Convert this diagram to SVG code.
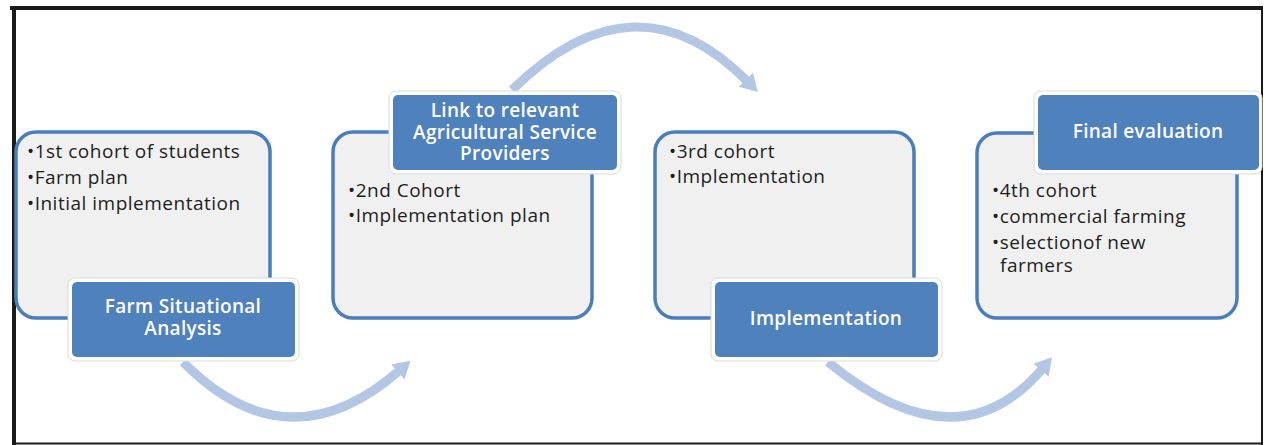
<svg xmlns="http://www.w3.org/2000/svg" width="1266" height="445" viewBox="0 0 1266 445">
<style>
.frame{fill:none;stroke:#1a1a1a}
.box{fill:#f0f0f0;stroke:#4a7ebb;stroke-width:3.5}
.lblshadow{fill:#ffffff;stroke:#dadada;stroke-width:1}
.lbl{fill:#4f81bd;stroke:none}
.t{font-family:"Open Sans",Lato,"Liberation Sans",sans-serif;font-size:19px;letter-spacing:0.5px;fill:#1e1e1e}
.w{font-family:"Open Sans",Lato,"Liberation Sans",sans-serif;font-size:19px;letter-spacing:0.3px;fill:#ffffff;text-anchor:middle;font-weight:600}
.arr{fill:none;stroke:#b3c6e4;stroke-width:9}
</style>
<defs>
<marker id="ah" markerUnits="userSpaceOnUse" markerWidth="20" markerHeight="22" refX="3" refY="11" orient="auto">
<path d="M0,1 L17,11 L0,21 z" fill="#b3c6e4"/>
</marker>
</defs>
<rect width="1266" height="445" fill="#ffffff"/>
<g id="frame">
<line class="frame" x1="10" y1="8" x2="1263" y2="8" stroke-width="4"/>
<line class="frame" x1="14" y1="6" x2="14" y2="445" stroke-width="4"/>
<line class="frame" x1="1262" y1="6" x2="1262" y2="445" stroke-width="2"/>
<line class="frame" x1="12" y1="443.5" x2="1263" y2="443.5" stroke-width="2"/>
</g>
<g id="connectors">
<path class="arr" d="M183,362 Q288,468 400,370" marker-end="url(#ah)"/>
<path class="arr" d="M512,90 Q636,-32 748,82" marker-end="url(#ah)"/>
<path class="arr" d="M828,362 Q958,469 1043,368" marker-end="url(#ah)"/>
</g>
<g id="node1">
<rect class="box" x="16" y="132" width="254" height="186" rx="20"/>
<text class="t" x="27" y="158">•1st cohort of students</text>
<text class="t" x="27" y="184">•Farm plan</text>
<text class="t" x="27" y="210">•Initial implementation</text>
<rect class="lblshadow" x="68" y="278" width="231" height="83" rx="7"/>
<rect class="lbl" x="72" y="282" width="223" height="75" rx="5"/>
<text class="w" x="183" y="313">Farm Situational</text>
<text class="w" x="183" y="335">Analysis</text>
</g>
<g id="node2">
<rect class="box" x="333" y="132" width="259" height="186" rx="20"/>
<text class="t" x="348" y="197">•2nd Cohort</text>
<text class="t" x="348" y="222">•Implementation plan</text>
<rect class="lblshadow" x="389" y="91" width="232" height="83" rx="7"/>
<rect class="lbl" x="393" y="95" width="224" height="75" rx="5"/>
<text class="w" x="505" y="117">Link to relevant</text>
<text class="w" x="505" y="139">Agricultural Service</text>
<text class="w" x="505" y="160">Providers</text>
</g>
<g id="node3">
<rect class="box" x="655" y="132" width="259" height="186" rx="20"/>
<text class="t" x="669" y="158">•3rd cohort</text>
<text class="t" x="669" y="183">•Implementation</text>
<rect class="lblshadow" x="711" y="278" width="231" height="83" rx="7"/>
<rect class="lbl" x="715" y="282" width="223" height="75" rx="5"/>
<text class="w" x="826" y="325">Implementation</text>
</g>
<g id="node4">
<rect class="box" x="977" y="133" width="260" height="185" rx="20"/>
<text class="t" x="992" y="197">•4th cohort</text>
<text class="t" x="992" y="223">•commercial farming</text>
<text class="t" x="992" y="249">•selectionof new</text>
<text class="t" x="1000" y="272">farmers</text>
<rect class="lblshadow" x="1034" y="91" width="228" height="83" rx="7"/>
<rect class="lbl" x="1038" y="95" width="221" height="75" rx="5"/>
<text class="w" x="1148" y="138">Final evaluation</text>
</g>
</svg>
